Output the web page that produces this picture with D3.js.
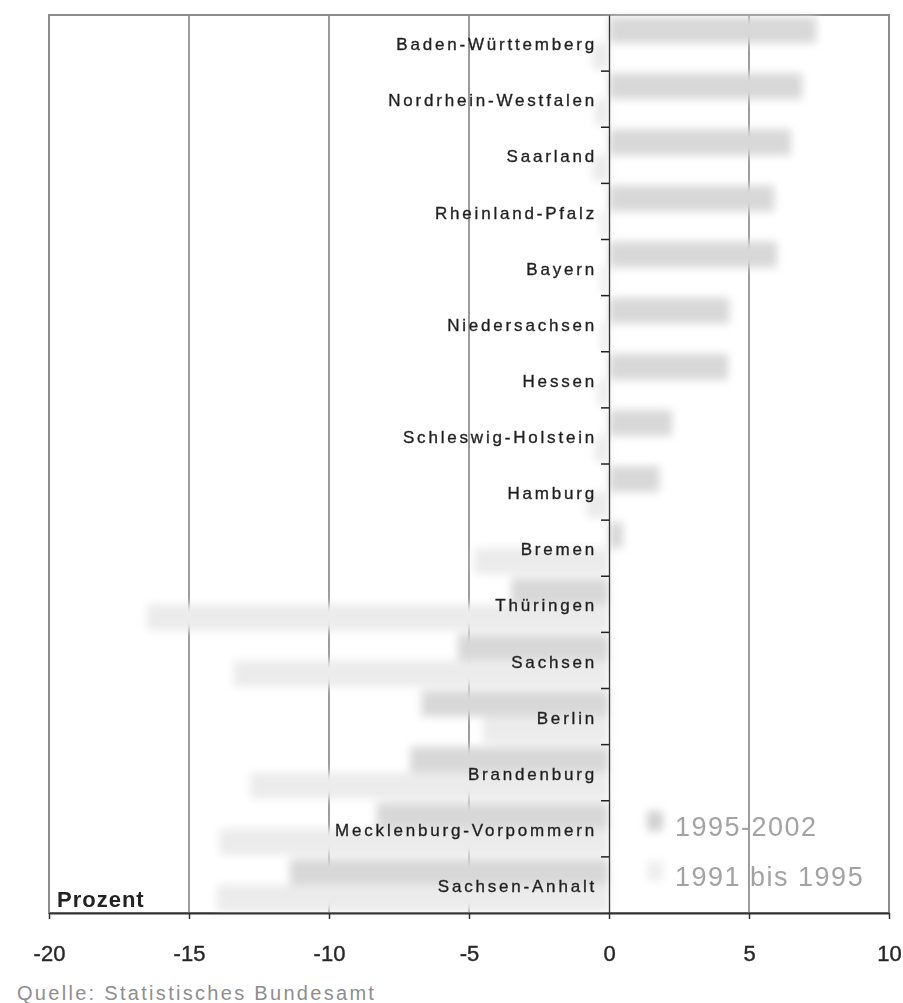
<!DOCTYPE html>
<html>
<head>
<meta charset="utf-8">
<script src="https://cdn.jsdelivr.net/npm/d3@7/dist/d3.min.js"></script>
<style>
  html, body { margin: 0; padding: 0; background: #ffffff; }
  svg { display: block; }
</style>
</head>
<body>
<svg id="chart" width="903" height="1003"></svg>
<script>
// Veränderung der Erwerbstätigenzahl nach Bundesländern, in Prozent
const categories = [
  "Baden-Württemberg", "Nordrhein-Westfalen", "Saarland", "Rheinland-Pfalz",
  "Bayern", "Niedersachsen", "Hessen", "Schleswig-Holstein", "Hamburg",
  "Bremen", "Thüringen", "Sachsen", "Berlin", "Brandenburg",
  "Mecklenburg-Vorpommern", "Sachsen-Anhalt"
];
const seriesNames = ["1995-2002", "1991 bis 1995"];
const values1995to2002 = [7.4, 6.9, 6.5, 5.9, 6.0, 4.3, 4.25, 2.25, 1.8, 0.5,
                          -3.5, -5.4, -6.7, -7.1, -8.3, -11.4];
const values1991to1995 = [-0.6, -0.5, -0.6, -0.3, -0.3, -0.3, -0.4, -0.5, -0.8, -4.8,
                          -16.5, -13.4, -4.5, -12.8, -13.9, -14.0];
const xTicks = [-20, -15, -10, -5, 0, 5, 10];
const gridValues = [-15, -10, -5, 5];

const seriesColors = { "1995-2002": "#d8d8d8", "1991 bis 1995": "#ebebeb" };
const rows = categories.map((c, i) => ({
  name: c,
  "1995-2002": values1995to2002[i],
  "1991 bis 1995": values1991to1995[i]
}));

const svg = d3.select("#chart");
const plot = { left: 49, right: 889, top: 15, bottom: 913 };

const x = d3.scaleLinear().domain([-20, 10]).range([plot.left, plot.right]);
const y = d3.scaleBand().domain(categories).range([plot.top, plot.bottom]).padding(0);
const ySub = d3.scaleBand().domain(seriesNames).range([2, y.bandwidth() - 2]).padding(0);

const defs = svg.append("defs");
defs.append("filter").attr("id", "soft")
  .attr("filterUnits", "userSpaceOnUse")
  .attr("x", -100).attr("y", -100).attr("width", 1200).attr("height", 1300)
  .append("feGaussianBlur").attr("stdDeviation", 4);

svg.append("rect").attr("width", 903).attr("height", 1003).attr("fill", "#ffffff");

// vertical grid lines
svg.append("g").selectAll("line").data(gridValues).join("line")
  .attr("x1", d => x(d)).attr("x2", d => x(d))
  .attr("y1", plot.top).attr("y2", plot.bottom)
  .attr("stroke", "#5a5a5a").attr("stroke-width", 1.2);

// plot frame
svg.append("rect")
  .attr("x", plot.left).attr("y", plot.top)
  .attr("width", plot.right - plot.left).attr("height", plot.bottom - plot.top)
  .attr("fill", "none").attr("stroke", "#8c8c8c").attr("stroke-width", 2);

// bars
const barLayer = svg.append("g").attr("filter", "url(#soft)");
const groups = barLayer.selectAll("g").data(rows).join("g")
  .attr("transform", d => `translate(0,${y(d.name)})`);
groups.selectAll("rect")
  .data(d => seriesNames.map(s => ({ key: s, value: d[s] })))
  .join("rect")
  .attr("x", d => x(Math.min(0, d.value)))
  .attr("width", d => Math.abs(x(d.value) - x(0)))
  .attr("y", d => ySub(d.key))
  .attr("height", ySub.bandwidth())
  .attr("fill", d => seriesColors[d.key]);

// zero axis with category labels
const yAxis = d3.axisLeft(y).tickSize(0).tickPadding(12);
const yAxisG = svg.append("g").attr("transform", `translate(${x(0)},0)`).call(yAxis);
yAxisG.select(".domain").attr("stroke", "#333").attr("stroke-width", 1.3);
yAxisG.selectAll("text")
  .attr("dy", "0.42em")
  .attr("fill", "#1e1e1e")
  .attr("stroke", "#2a2a2a")
  .attr("stroke-width", 0.35)
  .style("font-family", "'Liberation Sans', Arial, sans-serif")
  .style("font-size", "17px")
  .style("letter-spacing", "2.8px");

// boundary ticks between categories
svg.append("g").selectAll("line").data(categories.slice(1)).join("line")
  .attr("x1", x(0) - 8).attr("x2", x(0))
  .attr("y1", d => y(d)).attr("y2", d => y(d))
  .attr("stroke", "#222").attr("stroke-width", 1.5);

// bottom axis
const xAxis = d3.axisBottom(x).tickValues(xTicks).tickFormat(d => String(d))
  .tickSize(6).tickPadding(26).tickSizeOuter(0);
const xAxisG = svg.append("g").attr("transform", `translate(0,${plot.bottom})`).call(xAxis);
xAxisG.select(".domain").attr("stroke", "#333").attr("stroke-width", 2);
xAxisG.selectAll(".tick line").attr("stroke", "#333").attr("stroke-width", 1.5);
xAxisG.selectAll("text")
  .attr("fill", "#262626")
  .attr("stroke", "#2a2a2a")
  .attr("stroke-width", 0.4)
  .style("font-family", "'Liberation Sans', Arial, sans-serif")
  .style("font-size", "22px");

// axis unit
svg.append("text")
  .attr("x", 57).attr("y", 907)
  .attr("fill", "#222")
  .style("font-family", "'Liberation Sans', Arial, sans-serif")
  .style("font-size", "22px")
  .style("font-weight", "bold")
  .style("letter-spacing", "1px")
  .text("Prozent");

// legend
const legend = svg.append("g").attr("transform", "translate(647,811)");
const legendItems = legend.selectAll("g").data(seriesNames).join("g")
  .attr("transform", (d, i) => `translate(0,${i * 50})`);
legendItems.append("rect")
  .attr("width", 16).attr("height", 20)
  .attr("fill", d => d === "1995-2002" ? "#d0d0d0" : "#eeeeee")
  .attr("filter", "url(#soft)");
legendItems.append("text")
  .attr("x", 28).attr("y", 25)
  .attr("fill", "#a3a3a3")
  .style("font-family", "'Liberation Sans', Arial, sans-serif")
  .style("font-size", "27px")
  .style("letter-spacing", "1.5px")
  .text(d => d);

// source note
svg.append("text")
  .attr("x", 17).attr("y", 1000)
  .attr("fill", "#8e8e8e")
  .style("font-family", "'Liberation Sans', Arial, sans-serif")
  .style("font-size", "20px")
  .style("letter-spacing", "2.3px")
  .text("Quelle: Statistisches Bundesamt");
</script>
</body>
</html>
